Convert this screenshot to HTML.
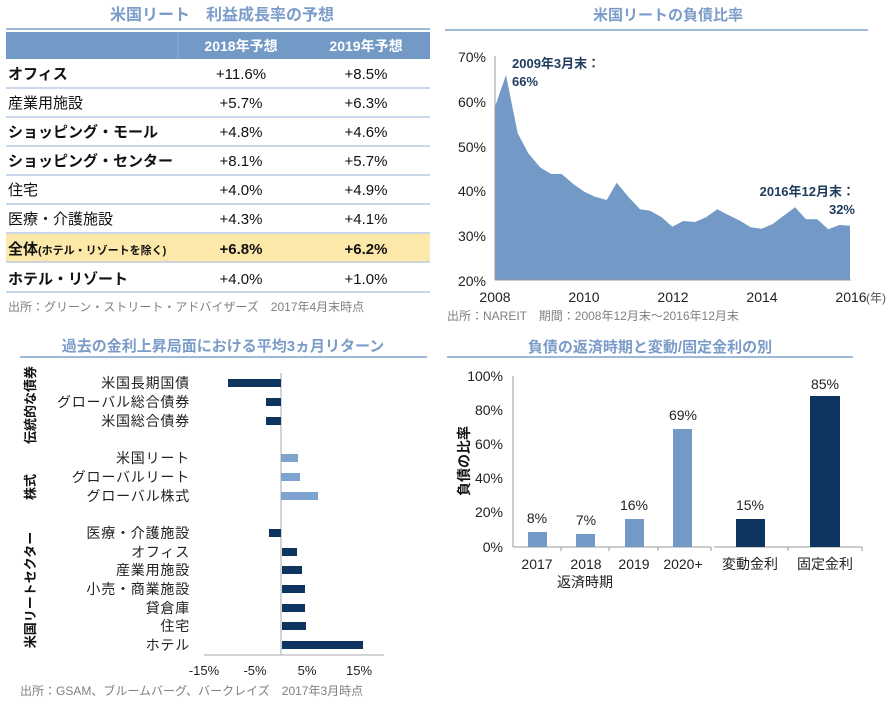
<!DOCTYPE html>
<html><head><meta charset="utf-8"><style>
body{margin:0;background:#fff;}
svg{display:block;font-family:"Liberation Sans","Noto Sans CJK JP",sans-serif;}
</style></head><body>
<svg width="893" height="701" viewBox="0 0 893 701" xmlns="http://www.w3.org/2000/svg">
<!-- Top-left table -->
<text x="222" y="20" text-anchor="middle" font-size="16" font-weight="bold" fill="#7b9cc9">米国リート　利益成長率の予想</text>
<line x1="6" y1="29" x2="430" y2="29" stroke="#9fb8d8" stroke-width="2"/>
<rect x="6" y="32" width="424" height="27" fill="#7399c6"/>
<line x1="178" y1="32" x2="178" y2="59" stroke="#8fb0d6"/>
<text x="241" y="51" text-anchor="middle" font-size="14" font-weight="bold" fill="#fff">2018年予想</text>
<text x="366" y="51" text-anchor="middle" font-size="14" font-weight="bold" fill="#fff">2019年予想</text>
<rect x="6" y="234" width="424" height="28" fill="#fce8a8"/>
<g stroke="#b9cbe2" stroke-width="1.5">
<line x1="6" y1="88" x2="430" y2="88"/><line x1="6" y1="117" x2="430" y2="117"/><line x1="6" y1="146" x2="430" y2="146"/><line x1="6" y1="175" x2="430" y2="175"/><line x1="6" y1="204" x2="430" y2="204"/><line x1="6" y1="233" x2="430" y2="233"/><line x1="6" y1="262" x2="430" y2="262"/><line x1="6" y1="292" x2="430" y2="292"/>
</g>
<g font-size="15" fill="#111">
<text x="8" y="79" font-weight="bold">オフィス</text><text x="241" y="79" text-anchor="middle">+11.6%</text><text x="366" y="79" text-anchor="middle">+8.5%</text>
<text x="8" y="108">産業用施設</text><text x="241" y="108" text-anchor="middle">+5.7%</text><text x="366" y="108" text-anchor="middle">+6.3%</text>
<text x="8" y="137" font-weight="bold">ショッピング・モール</text><text x="241" y="137" text-anchor="middle">+4.8%</text><text x="366" y="137" text-anchor="middle">+4.6%</text>
<text x="8" y="166" font-weight="bold">ショッピング・センター</text><text x="241" y="166" text-anchor="middle">+8.1%</text><text x="366" y="166" text-anchor="middle">+5.7%</text>
<text x="8" y="195">住宅</text><text x="241" y="195" text-anchor="middle">+4.0%</text><text x="366" y="195" text-anchor="middle">+4.9%</text>
<text x="8" y="224">医療・介護施設</text><text x="241" y="224" text-anchor="middle">+4.3%</text><text x="366" y="224" text-anchor="middle">+4.1%</text>
<text x="8" y="254" font-weight="bold">全体<tspan font-size="11">(ホテル・リゾートを除く)</tspan></text><text x="241" y="254" text-anchor="middle" font-weight="bold">+6.8%</text><text x="366" y="254" text-anchor="middle" font-weight="bold">+6.2%</text>
<text x="8" y="284" font-weight="bold">ホテル・リゾート</text><text x="241" y="284" text-anchor="middle">+4.0%</text><text x="366" y="284" text-anchor="middle">+1.0%</text>
</g>
<text x="8" y="311" font-size="12" fill="#808080">出所：グリーン・ストリート・アドバイザーズ　2017年4月末時点</text>

<!-- Top-right area chart -->
<text x="668" y="20" text-anchor="middle" font-size="15" font-weight="bold" fill="#7b9cc9">米国リートの負債比率</text>
<line x1="445" y1="30" x2="868" y2="30" stroke="#9fb8d8" stroke-width="2"/>
<polygon id="area" fill="#7399c6"/>
<line x1="495" y1="56" x2="495" y2="280" stroke="#999"/>
<line x1="495" y1="280" x2="851" y2="280" stroke="#999"/>
<g font-size="14" fill="#222" text-anchor="end">
<text x="486" y="62">70%</text><text x="486" y="107">60%</text><text x="486" y="152">50%</text><text x="486" y="196">40%</text><text x="486" y="241">30%</text><text x="486" y="286">20%</text>
</g>
<g font-size="14" fill="#222" text-anchor="middle">
<text x="495" y="302">2008</text><text x="584" y="302">2010</text><text x="673" y="302">2012</text><text x="762" y="302">2014</text><text x="851" y="302">2016</text>
</g>
<text x="866" y="302" font-size="12" fill="#555">(年)</text>
<text x="512" y="68" font-size="13" font-weight="bold" fill="#1f3b5e">2009年3月末：</text>
<text x="512" y="86" font-size="13" font-weight="bold" fill="#1f3b5e">66%</text>
<text x="855" y="196" font-size="13" font-weight="bold" fill="#1f3b5e" text-anchor="end">2016年12月末：</text>
<text x="855" y="214" font-size="13" font-weight="bold" fill="#1f3b5e" text-anchor="end">32%</text>
<text x="447" y="320" font-size="12" fill="#808080">出所：NAREIT　期間：2008年12月末～2016年12月末</text>

<!-- Bottom-left bar chart -->
<text x="223" y="351" text-anchor="middle" font-size="15" font-weight="bold" fill="#7b9cc9">過去の金利上昇局面における平均3ヵ月リターン</text>
<line x1="20" y1="357" x2="427" y2="357" stroke="#9fb8d8" stroke-width="2"/>
<line x1="281" y1="373" x2="281" y2="655" stroke="#aaa"/>
<line x1="204" y1="655" x2="384" y2="655" stroke="#aaa"/>
<g fill="#0d3560">
<rect x="228" y="379" width="53" height="8"/><rect x="266" y="398" width="15" height="8"/><rect x="266" y="417" width="15" height="8"/>
</g>
<g fill="#7fa3cf">
<rect x="281" y="454" width="17" height="8"/><rect x="281" y="473" width="19" height="8"/><rect x="281" y="492" width="37" height="8"/>
</g>
<g fill="#0d3560">
<rect x="269" y="529" width="12" height="8"/><rect x="282" y="548" width="15" height="8"/><rect x="282" y="566" width="20" height="8"/><rect x="282" y="585" width="23" height="8"/><rect x="282" y="604" width="23" height="8"/><rect x="282" y="622" width="24" height="8"/><rect x="282" y="641" width="81" height="8"/>
</g>
<g font-size="14" fill="#222" text-anchor="end" letter-spacing="0.8">
<text x="190" y="388">米国長期国債</text><text x="190" y="407">グローバル総合債券</text><text x="190" y="426">米国総合債券</text>
<text x="190" y="463">米国リート</text><text x="190" y="482">グローバルリート</text><text x="190" y="501">グローバル株式</text>
<text x="190" y="538">医療・介護施設</text><text x="190" y="557">オフィス</text><text x="190" y="575">産業用施設</text><text x="190" y="594">小売・商業施設</text><text x="190" y="613">貸倉庫</text><text x="190" y="631">住宅</text><text x="190" y="650">ホテル</text>
</g>
<g font-size="13" font-weight="bold" fill="#111" text-anchor="middle">
<text transform="translate(35,405) rotate(-90)">伝統的な債券</text>
<text transform="translate(35,487) rotate(-90)">株式</text>
<text transform="translate(35,590) rotate(-90)">米国リートセクター</text>
</g>
<g font-size="13" fill="#222" text-anchor="middle">
<text x="204" y="675">-15%</text><text x="255" y="675">-5%</text><text x="307" y="675">5%</text><text x="359" y="675">15%</text>
</g>
<text x="20" y="695" font-size="12" fill="#808080">出所：GSAM、ブルームバーグ、バークレイズ　2017年3月時点</text>

<!-- Bottom-right column chart -->
<text x="650" y="352" text-anchor="middle" font-size="15" font-weight="bold" fill="#7b9cc9">負債の返済時期と変動/固定金利の別</text>
<line x1="447" y1="357" x2="853" y2="357" stroke="#9fb8d8" stroke-width="2"/>
<line x1="513" y1="376" x2="513" y2="547" stroke="#999"/>
<line x1="513" y1="547" x2="711" y2="547" stroke="#999"/>
<line x1="714" y1="547" x2="862" y2="547" stroke="#999"/>
<g stroke="#999"><line x1="561" y1="547" x2="561" y2="551"/><line x1="609" y1="547" x2="609" y2="551"/><line x1="658" y1="547" x2="658" y2="551"/><line x1="711" y1="547" x2="711" y2="551"/><line x1="788" y1="547" x2="788" y2="551"/><line x1="862" y1="547" x2="862" y2="551"/></g>
<g fill="#7399c6">
<rect x="528" y="532" width="19" height="15"/><rect x="576" y="534" width="19" height="13"/><rect x="625" y="519" width="19" height="28"/><rect x="673" y="429" width="19" height="118"/>
</g>
<g fill="#0d3560"><rect x="736" y="519" width="29" height="28"/><rect x="810" y="396" width="30" height="151"/></g>
<g font-size="14" fill="#222" text-anchor="end">
<text x="503" y="381">100%</text><text x="503" y="415">80%</text><text x="503" y="449">60%</text><text x="503" y="483">40%</text><text x="503" y="517">20%</text><text x="503" y="552">0%</text>
</g>
<g font-size="14" fill="#222" text-anchor="middle">
<text x="537" y="523">8%</text><text x="586" y="525">7%</text><text x="634" y="510">16%</text><text x="683" y="420">69%</text><text x="750" y="510">15%</text><text x="825" y="389">85%</text>
<text x="537" y="569">2017</text><text x="586" y="569">2018</text><text x="634" y="569">2019</text><text x="683" y="569">2020+</text><text x="750" y="569">変動金利</text><text x="825" y="569">固定金利</text>
<text x="585" y="587">返済時期</text>
</g>
<text transform="translate(469,461) rotate(-90)" text-anchor="middle" font-size="14" font-weight="bold" fill="#111">負債の比率</text>
<script>
var p=[[150,230],[183,135],[218,310],[250,370],[285,412],[318,432],[350,432],[385,462],[418,485],[450,500],[485,510],[515,458],[550,500],[585,538],[615,542],[650,562],[682,590],[715,573],[750,576],[783,562],[817,538],[850,555],[885,572],[917,592],[950,596],[983,582],[1015,558],[1050,532],[1083,568],[1117,568],[1150,598],[1183,585],[1215,587]];
var s=p.map(function(a){return (a[0]/3+445).toFixed(1)+","+(a[1]/3+30).toFixed(1)});
s.push("850,280","495,280");
document.getElementById("area").setAttribute("points",s.join(" "));
</script>
</svg>
</body></html>
